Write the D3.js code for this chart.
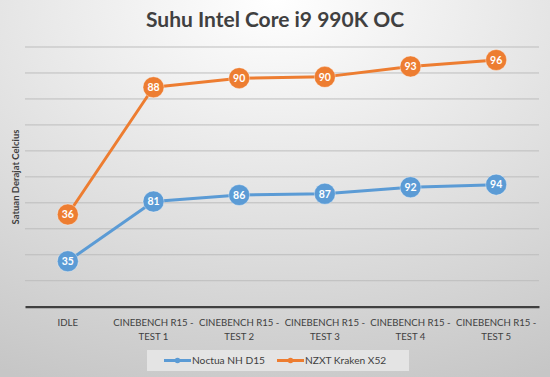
<!DOCTYPE html>
<html><head><meta charset="utf-8">
<script src="https://cdn.jsdelivr.net/npm/d3@7"></script>
<style>html,body{margin:0;padding:0;background:#fff}svg{display:block}</style>
</head><body>
<svg id="c" width="550" height="377"></svg>
<script>
const title = "Suhu Intel Core i9 990K OC";
const yTitle = "Satuan Derajat Celcius";
const categories = ["IDLE", "CINEBENCH R15 - TEST 1", "CINEBENCH R15 - TEST 2", "CINEBENCH R15 - TEST 3", "CINEBENCH R15 - TEST 4", "CINEBENCH R15 - TEST 5"];
const catLine1 = ["IDLE", "CINEBENCH R15 -", "CINEBENCH R15 -", "CINEBENCH R15 -", "CINEBENCH R15 -", "CINEBENCH R15 -"];
const catLine2 = ["", "TEST 1", "TEST 2", "TEST 3", "TEST 4", "TEST 5"];
const seriesNames = ["Noctua NH D15", "NZXT Kraken X52"];
const noctua = [35, 81, 86, 87, 92, 94];
const nzxt = [36, 88, 90, 90, 93, 96];
const yTicks = [0, 20, 40, 60, 80, 100, 120, 140, 160, 180, 200];
const colors = ["#5b9bd5", "#ed7d31"];

const W = 550, H = 377;
const svg = d3.select("#c");
const defs = svg.append("defs");
const rg = defs.append("radialGradient").attr("id","bg").attr("cx","50%").attr("cy","0%").attr("r","110%").attr("fx","50%").attr("fy","0%");
rg.append("stop").attr("offset","0%").attr("stop-color","#ffffff");
rg.append("stop").attr("offset","100%").attr("stop-color","#c6c6c6");
svg.append("rect").attr("width",W).attr("height",H).attr("fill","url(#bg)");

const x = d3.scaleBand().domain(categories).range([25, 539]);
const y = d3.scaleLinear().domain([0, 200]).range([306.7, 47]);
const cx = d => x(d) + x.bandwidth()/2;

// gridlines
svg.append("g").selectAll("line").data(yTicks.filter(t => t > 0)).join("line")
  .attr("x1", 25).attr("x2", 539).attr("y1", d => y(d)).attr("y2", d => y(d))
  .attr("stroke", "#bdbdbd").attr("stroke-width", 1);

// x axis
const xAxis = svg.append("g").attr("transform", `translate(0,${y(0)})`)
  .call(d3.axisBottom(x).tickSize(0).tickFormat(""));
xAxis.select(".domain").attr("stroke", "#404040").attr("stroke-width", 2.2);
const lab = svg.append("g").attr("font-family", "Lato, 'Open Sans', sans-serif").attr("font-size", 9.6).attr("fill", "#404040").attr("text-anchor", "middle");
categories.forEach((c, i) => {
  lab.append("text").attr("x", cx(c)).attr("y", 325.5).text(catLine1[i]);
  lab.append("text").attr("x", cx(c)).attr("y", 339.5).text(catLine2[i]);
});

// title
svg.append("text").attr("x", 275).attr("y", 27).attr("text-anchor", "middle")
  .attr("font-family", "Lato, sans-serif").attr("font-weight", "bold").attr("font-size", 21).attr("fill", "#404040").text(title);
// y title
svg.append("text").attr("transform", "translate(19,177) rotate(-90)").attr("text-anchor", "middle")
  .attr("font-family", "Lato, sans-serif").attr("font-weight", "bold").attr("font-size", 9.5).attr("fill", "#404040").text(yTitle);

// stacked series
const stackedTop = noctua.map((v, i) => v + nzxt[i]);
const series = [
  {name: seriesNames[0], vals: noctua, pos: noctua, color: colors[0]},
  {name: seriesNames[1], vals: nzxt, pos: stackedTop, color: colors[1]}
];
const line = d3.line().x((d, i) => cx(categories[i])).y(d => y(d));
series.forEach(s => {
  svg.append("path").attr("d", line(s.pos)).attr("fill", "none").attr("stroke", s.color).attr("stroke-width", 3).attr("stroke-linejoin", "round");
});
series.forEach(s => {
  const g = svg.append("g");
  s.pos.forEach((p, i) => {
    g.append("circle").attr("cx", cx(categories[i])).attr("cy", y(p)).attr("r", 10.5)
      .attr("fill", s.color).attr("stroke", "rgba(255,255,255,0.35)").attr("stroke-width", 1);
    g.append("text").attr("x", cx(categories[i])).attr("y", y(p) + 3.8).attr("text-anchor", "middle")
      .attr("font-family", "Lato, sans-serif").attr("font-weight", "bold").attr("font-size", 10.5).attr("fill", "#fff").text(s.vals[i]);
  });
});

// legend
const lg = svg.append("g");
lg.append("rect").attr("x", 147).attr("y", 350).attr("width", 262).attr("height", 21).attr("fill", "#e4e4e4");
const legX = [164, 277];
series.forEach((s, i) => {
  lg.append("line").attr("x1", legX[i]).attr("x2", legX[i] + 27).attr("y1", 360.5).attr("y2", 360.5).attr("stroke", s.color).attr("stroke-width", 3);
  lg.append("circle").attr("cx", legX[i] + 13.5).attr("cy", 360.5).attr("r", 2.8).attr("fill", s.color);
  lg.append("text").attr("x", legX[i] + 28).attr("y", 364.3).attr("font-family", "Lato, sans-serif").attr("font-size", 10.2).attr("fill", "#404040").text(s.name);
});
</script>
</body></html>
